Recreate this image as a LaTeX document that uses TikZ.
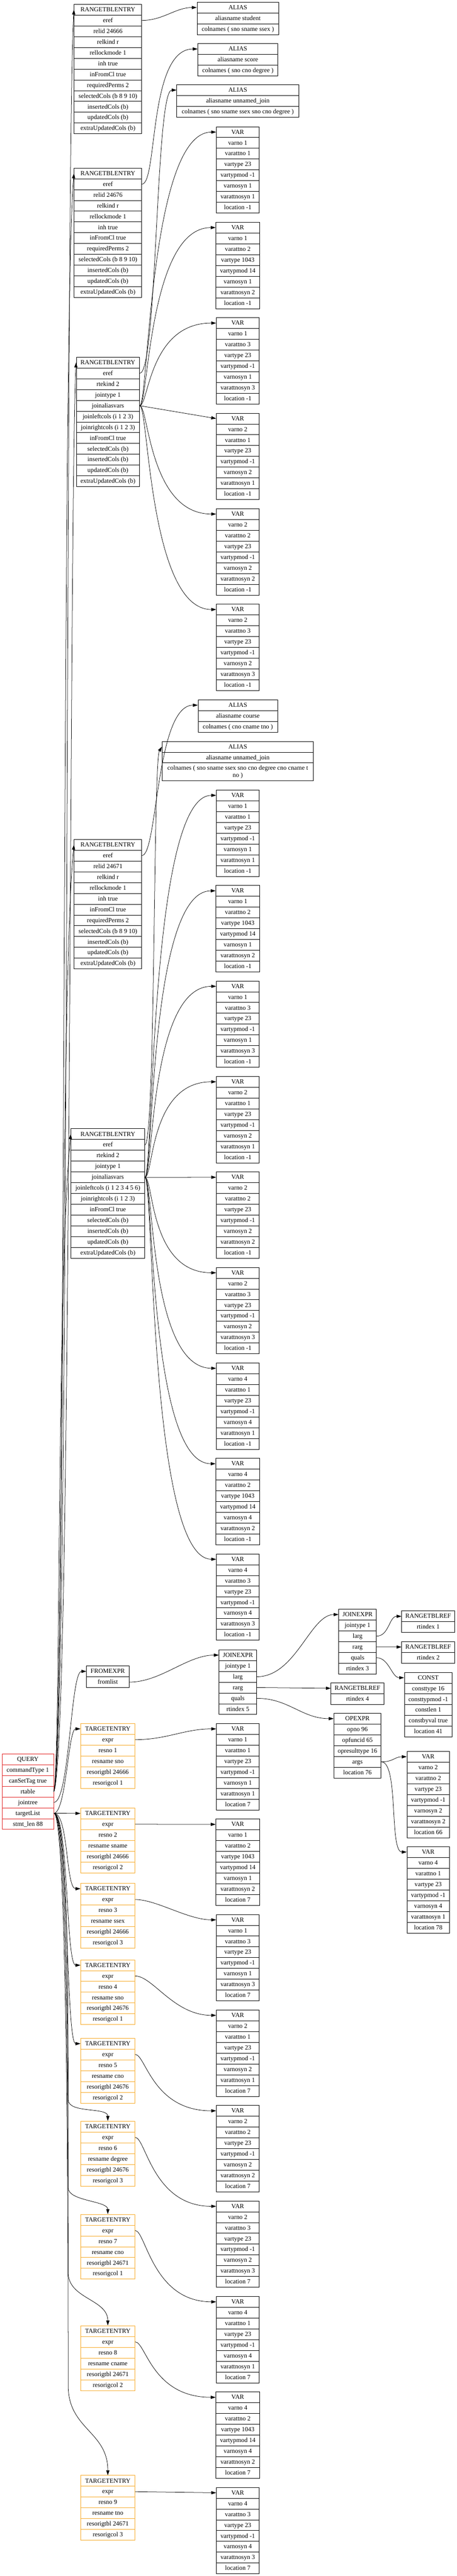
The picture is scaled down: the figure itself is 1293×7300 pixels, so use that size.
\documentclass[tikz,border=0pt]{standalone}
\usepackage{fontspec}
\setmainfont{Liberation Serif}
\usetikzlibrary{arrows.meta}
\definecolor{qred}{RGB}{226,38,38}
\definecolor{qorange}{RGB}{247,170,40}
\newcommand\recfont{\fontsize{18}{20.7}\selectfont}

\begin{document}
\begin{tikzpicture}[x=1pt, y=-1pt,
  fld/.style={draw, line width=1.1pt, inner sep=0pt, minimum height=30.6pt, text height=12pt, text depth=1.2pt, font=\recfont},
  link/.style={-{Triangle[length=14pt, width=9pt]}, line width=1.1pt}]
  \fill[white] (0,0) rectangle (1293,7300);
  \useasboundingbox (0,0) rectangle (1293,7300);

  % records
  \foreach \n/\cx/\yy/\w/\col/\rows in {
    rte1/305.5/12/191/black/{RANGETBLENTRY, eref, relid 24666, relkind r, rellockmode 1, inh true, inFromCl true, requiredPerms 2, selectedCols (b 8 9 10), insertedCols (b), updatedCols (b), extraUpdatedCols (b)},
    rte2/305.5/476/191/black/{RANGETBLENTRY, eref, relid 24676, relkind r, rellockmode 1, inh true, inFromCl true, requiredPerms 2, selectedCols (b 8 9 10), insertedCols (b), updatedCols (b), extraUpdatedCols (b)},
    rte3/305.5/1012/179/black/{RANGETBLENTRY, eref, rtekind 2, jointype 1, joinaliasvars, joinleftcols (i 1 2 3), joinrightcols (i 1 2 3), inFromCl true, selectedCols (b), insertedCols (b), updatedCols (b), extraUpdatedCols (b)},
    rte4/305.5/2378.6/191/black/{RANGETBLENTRY, eref, relid 24671, relkind r, rellockmode 1, inh true, inFromCl true, requiredPerms 2, selectedCols (b 8 9 10), insertedCols (b), updatedCols (b), extraUpdatedCols (b)},
    rte5/305.3/3198.6/208.5/black/{RANGETBLENTRY, eref, rtekind 2, jointype 1, joinaliasvars, joinleftcols (i 1 2 3 4 5 6), joinrightcols (i 1 2 3), inFromCl true, selectedCols (b), insertedCols (b), updatedCols (b), extraUpdatedCols (b)},
    alias1/673.3/6/231.5/black/{ALIAS, aliasname student, colnames ( sno sname ssex )},
    alias2/673.3/123.5/226.5/black/{ALIAS, aliasname score, colnames ( sno cno degree )},
    alias3/673/240/345/black/{ALIAS, aliasname unnamed\_join, colnames ( sno sname ssex sno cno degree )},
    alias4/673.2/1983/225/black/{ALIAS, aliasname course, colnames ( cno cname tno )},
    alias5/673/2100.8/428/black/{ALIAS, aliasname unnamed\_join},
    query/78.8/4970/146/qred/{QUERY, commandType 1, canSetTag true, rtable, jointree, targetList, stmt\_len 88},
    fromexpr/305/4721/120/black/{FROMEXPR, fromlist},
    je1/673.3/4675/106.5/black/{JOINEXPR, jointype 1, larg, rarg, quals, rtindex 5},
    je2/1012.2/4560/106.5/black/{JOINEXPR, jointype 1, larg, rarg, quals, rtindex 3},
    rtr1/1212/4565/150/black/{RANGETBLREF, rtindex 1},
    rtr2/1212/4652/150/black/{RANGETBLREF, rtindex 2},
    rtr3/1012/4769/150/black/{RANGETBLREF, rtindex 4},
    const/1212.2/4739/135.5/black/{CONST, consttype 16, consttypmod -1, constlen 1, constbyval true, location 41},
    opexpr/1011.8/4855/133.6/black/{OPEXPR, opno 96, opfuncid 65, opresulttype 16, args, location 76}}
    \foreach \txt [count=\nr] in \rows
      \node[fld, draw=\col, minimum width=\w pt] (\n-\nr) at (\cx, {\yy+(\nr-0.5)*30.6}) {\txt};
  \node[draw, line width=1.1pt, inner sep=0pt, minimum width=428pt, minimum height=50.6pt, align=center, font=\recfont]
    (alias5-3) at (673, 2187.3) {colnames ( sno sname ssex sno cno degree cno cname t\\no )};

  % target entries
  \foreach \k/\yy/\rn/\tb/\rc in {1/4884/sno/24666/1, 2/5123.6/sname/24666/2, 3/5337/ssex/24666/3,
      4/5553.7/sno/24676/1, 5/5776/cno/24676/2, 6/6011/degree/24676/3,
      7/6275/cno/24671/1, 8/6590.6/cname/24671/2, 9/7015/tno/24671/3}
    \foreach \txt [count=\nr] in {TARGETENTRY, expr, resno \k, resname \rn, resorigtbl \tb, resorigcol \rc}
      \node[fld, draw=qorange, minimum width=153.6pt] (te\k-\nr) at (305.2, {\yy+(\nr-0.5)*30.6}) {\txt};

  % vars
  \foreach \n/\cx/\yy/\vn/\va/\vt/\vm/\vl/\w in {
    a1/673/359/1/1/23/-1/-1/121, a2/673/629.6/1/2/1043/14/-1/124, a3/673/900.2/1/3/23/-1/-1/121,
    a4/673/1170.8/2/1/23/-1/-1/121, a5/673/1441.4/2/2/23/-1/-1/121, a6/673/1712/2/3/23/-1/-1/121,
    b1/673/2238.5/1/1/23/-1/-1/121, b2/673/2509.1/1/2/1043/14/-1/124, b3/673/2779.7/1/3/23/-1/-1/121,
    b4/673/3050.3/2/1/23/-1/-1/121, b5/673/3320.9/2/2/23/-1/-1/121, b6/673/3591.5/2/3/23/-1/-1/121,
    b7/673/3862.1/4/1/23/-1/-1/121, b8/673/4132.7/4/2/1043/14/-1/124, b9/673/4403.3/4/3/23/-1/-1/121,
    c1/673/4884/1/1/23/-1/7/121, c2/673/5154.6/1/2/1043/14/7/124, c3/673/5425.2/1/3/23/-1/7/121,
    c4/673/5695.8/2/1/23/-1/7/121, c5/673/5966.4/2/2/23/-1/7/121, c6/673/6237/2/3/23/-1/7/121,
    c7/673/6507.6/4/1/23/-1/7/121, c8/673/6778.2/4/2/1043/14/7/124, c9/673/7048.8/4/3/23/-1/7/121,
    q1/1212/4963/2/2/23/-1/66/120, q2/1212/5233/4/1/23/-1/78/120}
    \foreach \txt [count=\nr] in {VAR, varno \vn, varattno \va, vartype \vt, vartypmod \vm, varnosyn \vn, varattnosyn \va, location \vl}
      \node[fld, minimum width=\w pt] (\n-\nr) at (\cx, {\yy+(\nr-0.5)*30.6}) {\txt};

  % eref -> alias
  \draw[link] (rte1-2.east) .. controls +(60,0) and +(-60,0) .. (alias1-1.west);
  \draw[link] (rte2-2.east) .. controls +(45,0) and +(-140,0) .. (alias2-1.west);
  \draw[link] (rte3-2.east) .. controls +(50,0) and +(-60,0) .. (alias3-1.west);
  \draw[link] (rte4-2.east) .. controls +(45,0) and +(-120,0) .. (alias4-1.west);
  \draw[link] (rte5-2.east) .. controls +(30,0) and +(-25,40) .. (alias5-1.west);

  % joinaliasvars
  \foreach \k in {1,2,3,5,6}
    \draw[link] (rte3-5.east) .. controls +(25,0) and +(-190,0) .. (a\k-1.west);
  \draw[link] (rte3-5.east) -- (a4-1.west);
  \foreach \k in {1,2,3,4,6,7,8,9}
    \draw[link] (rte5-5.east) .. controls +(25,0) and +(-190,0) .. (b\k-1.west);
  \draw[link] (rte5-5.east) -- (b5-1.west);

  % query
  \foreach \k/\a/\b in {1/45/-25, 2/35/-35, 3/50/-20, 4/30/-40, 5/20/-40}
    \draw[link] (query-4.east) .. controls +(\a,-100) and +(\b,400) .. (rte\k-1.west);
  \draw[link] (query-5.east) .. controls +(45,0) and +(-45,0) .. (fromexpr-1.west);
  \draw[link] (query-6.east) .. controls +(35,0) and +(-35,0) .. (te1-1.west);
  \draw[link] (query-6.east) -- (te2-1.west);
  \foreach \k in {3,4,5}
    \draw[link] (query-6.east) .. controls +(42,0) and +(-42,0) .. (te\k-1.west);
  \foreach \k/\yw/\h in {6/5950/40, 7/6200/38, 8/6440/75, 9/6760/125}
    \draw[link] (query-6.east) .. controls +(40,0) and +(0,-300) .. (193,\yw) .. controls +(0,\h) and +(0,-\h) .. (te\k-1.north);

  % jointree
  \draw[link] (fromexpr-2.east) .. controls +(90,0) and +(-90,0) .. (je1-1.west);
  \draw[link] (je1-3.east) .. controls +(110,0) and +(-80,0) .. (je2-1.west);
  \draw[link] (je1-4.east) -- (rtr3-1.west);
  \draw[link] (je1-5.east) .. controls +(90,0) and +(-90,0) .. (opexpr-1.west);
  \draw[link] (je2-3.east) .. controls +(35,0) and +(-35,0) .. (rtr1-1.west);
  \draw[link] (je2-4.east) -- (rtr2-1.west);
  \draw[link] (je2-5.east) .. controls +(35,0) and +(-35,0) .. (const-1.west);
  \draw[link] (opexpr-5.east) .. controls +(35,0) and +(-35,0) .. (q1-1.west);
  \draw[link] (opexpr-5.east) .. controls +(50,0) and +(-50,0) .. (q2-1.west);

  % targetlist exprs
  \foreach \k/\p/\q in {1/90/90, 3/60/80, 4/50/120, 5/30/180, 6/30/180, 7/30/180, 8/30/180}
    \draw[link] (te\k-2.east) .. controls +(\p,0) and +(-\q,0) .. (c\k-1.west);
  \draw[link] (te2-2.east) -- (c2-1.west);
  \draw[link] (te9-2.east) -- (c9-1.west);
\end{tikzpicture}
\end{document}
